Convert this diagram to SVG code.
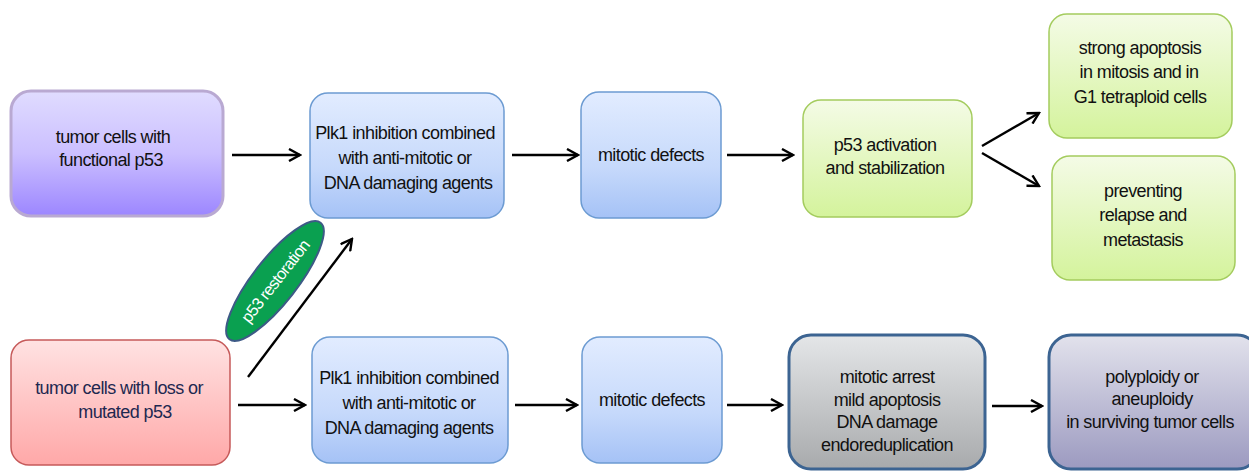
<svg xmlns="http://www.w3.org/2000/svg" width="1249" height="473" viewBox="0 0 1249 473">
<defs>
<linearGradient id="gPurple" x1="0" y1="0" x2="0" y2="1"><stop offset="0" stop-color="#e0dcff"/><stop offset="0.5" stop-color="#cbbfff"/><stop offset="1" stop-color="#9c86ff"/></linearGradient>
<linearGradient id="gBlue" x1="0" y1="0" x2="0" y2="1"><stop offset="0" stop-color="#e2ecff"/><stop offset="0.6" stop-color="#c6d9fb"/><stop offset="1" stop-color="#a5c2f6"/></linearGradient>
<linearGradient id="gGreen" x1="0" y1="0" x2="0" y2="1"><stop offset="0" stop-color="#f4fbe6"/><stop offset="1" stop-color="#d4f39c"/></linearGradient>
<linearGradient id="gRed" x1="0" y1="0" x2="0" y2="1"><stop offset="0" stop-color="#ffe2e2"/><stop offset="1" stop-color="#ffa8a8"/></linearGradient>
<linearGradient id="gGray" x1="0" y1="0" x2="0" y2="1"><stop offset="0" stop-color="#e4e6e8"/><stop offset="1" stop-color="#a8aaac"/></linearGradient>
<linearGradient id="gLav" x1="0" y1="0" x2="0" y2="1"><stop offset="0" stop-color="#e2e2ec"/><stop offset="1" stop-color="#9c9ac0"/></linearGradient>
<marker id="arr" viewBox="0 0 14 14" refX="12" refY="7" markerWidth="14" markerHeight="14" markerUnits="userSpaceOnUse" orient="auto">
<path d="M1,1 L12,7 L1,13" fill="none" stroke="#000" stroke-width="2.4"/>
</marker>
</defs>
<style>
text{font-family:"Liberation Sans",Arial,sans-serif;font-size:18px;fill:#111;text-anchor:middle;letter-spacing:-0.6px}
.purple{fill:url(#gPurple);stroke:#b9a9d2;stroke-width:3}
.blue{fill:url(#gBlue);stroke:#6c9bd2;stroke-width:1.5}
.green{fill:url(#gGreen);stroke:#a4cc5e;stroke-width:1.5}
.red{fill:url(#gRed);stroke:#c65a5a;stroke-width:1.5}
.gray{fill:url(#gGray);stroke:#3c6492;stroke-width:3}
.lav{fill:url(#gLav);stroke:#3c6492;stroke-width:3}
.conn line{stroke:#000;stroke-width:2.4;marker-end:url(#arr)}
.navy{fill:#1e2850}
</style>
<rect width="1249" height="473" fill="#fff"/>

<g id="n-functional">
<rect class="purple" x="11" y="91" width="212" height="125" rx="20"/>
<text x="113" y="143">tumor cells with</text>
<text x="111" y="166">functional p53</text>
</g>
<g id="n-plk1-top">
<rect class="blue" x="310" y="93" width="194" height="125" rx="18"/>
<text x="405" y="139">Plk1 inhibition combined</text>
<text x="405" y="164">with anti-mitotic or</text>
<text x="408" y="189">DNA damaging agents</text>
</g>
<g id="n-defects-top">
<rect class="blue" x="581" y="92" width="140" height="126" rx="18"/>
<text x="651" y="161">mitotic defects</text>
</g>
<g id="n-p53act">
<rect class="green" x="803" y="100" width="169" height="117" rx="18"/>
<text x="885" y="151">p53 activation</text>
<text x="885" y="174">and stabilization</text>
</g>
<g id="n-apoptosis">
<rect class="green" x="1049" y="14" width="183" height="124" rx="18"/>
<text x="1140" y="54">strong apoptosis</text>
<text x="1139" y="78">in mitosis and in</text>
<text x="1140" y="103">G1 tetraploid cells</text>
</g>
<g id="n-preventing">
<rect class="green" x="1052" y="156" width="183" height="124" rx="18"/>
<text x="1143" y="197">preventing</text>
<text x="1143" y="221">relapse and</text>
<text x="1143" y="246">metastasis</text>
</g>

<g id="n-mutated">
<rect class="red" x="11" y="340" width="219" height="125" rx="18"/>
<text class="navy" x="119" y="394">tumor cells with loss or</text>
<text class="navy" x="125" y="418">mutated p53</text>
</g>
<g id="n-plk1-bot">
<rect class="blue" x="312" y="337" width="196" height="126" rx="18"/>
<text x="409" y="384">Plk1 inhibition combined</text>
<text x="409" y="409">with anti-mitotic or</text>
<text x="409" y="434">DNA damaging agents</text>
</g>
<g id="n-defects-bot">
<rect class="blue" x="582" y="337" width="140" height="126" rx="18"/>
<text x="652" y="406">mitotic defects</text>
</g>
<g id="n-arrest">
<rect class="gray" x="789" y="335" width="196" height="134" rx="22"/>
<text x="887" y="383">mitotic arrest</text>
<text x="887" y="406">mild apoptosis</text>
<text x="887" y="428">DNA damage</text>
<text x="887" y="451">endoreduplication</text>
</g>
<g id="n-polyploidy">
<rect class="lav" x="1049" y="335" width="210" height="134" rx="22"/>
<text x="1152" y="383">polyploidy or</text>
<text x="1152" y="405">aneuploidy</text>
<text x="1150" y="428">in surviving tumor cells</text>
</g>

<g id="connectors" class="conn">
<line x1="232" y1="155" x2="300" y2="155"/>
<line x1="512" y1="155" x2="578" y2="155"/>
<line x1="727" y1="155" x2="793" y2="155"/>
<line x1="982" y1="146" x2="1039" y2="113"/>
<line x1="982" y1="153" x2="1039" y2="186"/>
<line x1="238" y1="405" x2="305" y2="405"/>
<line x1="515" y1="405" x2="577" y2="405"/>
<line x1="727" y1="405" x2="782" y2="405"/>
<line x1="992" y1="406" x2="1042" y2="406"/>
<line x1="248" y1="377" x2="352" y2="239"/>
</g>

<g id="n-restoration">
<ellipse cx="275" cy="281" rx="74" ry="22" transform="rotate(-52 275 281)" fill="#0aa050" stroke="#3d5a86" stroke-width="2"/>
<text x="275" y="287" transform="rotate(-52 275 281)" style="fill:#fff;font-size:16.5px;letter-spacing:-0.7px">p53 restoration</text>
</g>
</svg>
